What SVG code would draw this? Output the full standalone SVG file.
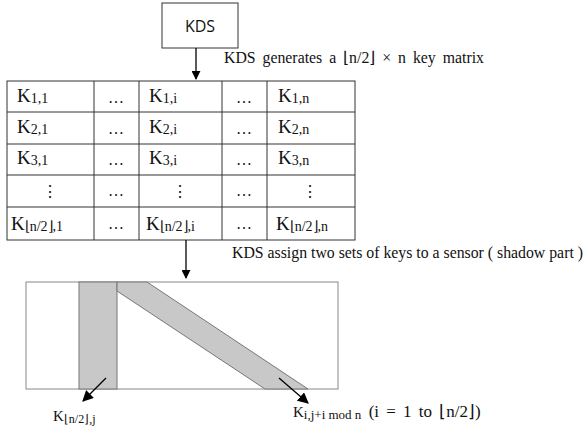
<svg xmlns="http://www.w3.org/2000/svg" width="584" height="429" viewBox="0 0 584 429">
<defs>
<marker id="ah" viewBox="0 0 10 10" refX="9" refY="5" markerWidth="9" markerHeight="9" markerUnits="userSpaceOnUse" orient="auto"><path d="M0,0 L10,5 L0,10 z" fill="#000"/></marker>
<marker id="ah2" viewBox="0 0 10 10" refX="9" refY="5" markerWidth="11" markerHeight="11" markerUnits="userSpaceOnUse" orient="auto"><path d="M0,0 L10,5 L0,10 z" fill="#000"/></marker>
<style>
.k{font-family:"Liberation Serif",serif;font-size:19px;fill:#111}
.s{font-size:14px}
.d{font-family:"Liberation Serif",serif;font-size:16px;fill:#111;text-anchor:middle}
.lbl{font-family:"Liberation Serif",serif;font-size:15.8px;fill:#111}
.grid{stroke:#333;stroke-width:1;fill:none}
.band{fill:#c8c8c8;stroke:#777;stroke-width:1}
.conn{stroke:#000;stroke-width:1.3;fill:none}
</style>
</defs>
<rect width="584" height="429" fill="#fff"/>
<g id="kds">
<rect x="162" y="3" width="76" height="45" fill="#fff" stroke="#333" stroke-width="1"/>
<text x="200" y="32" text-anchor="middle" style="font-family:'Open Sans','Liberation Sans',sans-serif;font-size:16px;fill:#111">KDS</text>
</g>
<g id="matrix">
<rect class="grid" x="7" y="81" width="348" height="159"/>
<path class="grid" d="M94,81V240M139,81V240M222,81V240M267,81V240M7,112H355M7,144H355M7,175H355M7,207H355"/>
<text class="k" x="17" y="102">K<tspan class="s" dy="1">1,1</tspan></text>
<text class="k" x="149" y="102">K<tspan class="s" dy="1">1,i</tspan></text>
<text class="k" x="278" y="102">K<tspan class="s" dy="1">1,n</tspan></text>
<text class="k" x="17" y="133">K<tspan class="s" dy="1">2,1</tspan></text>
<text class="k" x="149" y="133">K<tspan class="s" dy="1">2,i</tspan></text>
<text class="k" x="278" y="133">K<tspan class="s" dy="1">2,n</tspan></text>
<text class="k" x="17" y="164">K<tspan class="s" dy="1">3,1</tspan></text>
<text class="k" x="149" y="164">K<tspan class="s" dy="1">3,i</tspan></text>
<text class="k" x="278" y="164">K<tspan class="s" dy="1">3,n</tspan></text>
<text class="k" x="11" y="230">K<tspan class="s" dy="1">⌊n/2⌋,1</tspan></text>
<text class="k" x="146" y="230">K<tspan class="s" dy="1">⌊n/2⌋,i</tspan></text>
<text class="k" x="276" y="230">K<tspan class="s" dy="1">⌊n/2⌋,n</tspan></text>
<text class="d" x="116" y="103">…</text><text class="d" x="244" y="103">…</text>
<text class="d" x="116" y="134">…</text><text class="d" x="244" y="134">…</text>
<text class="d" x="116" y="165">…</text><text class="d" x="244" y="165">…</text>
<text class="d" x="116" y="196">…</text><text class="d" x="244" y="196">…</text>
<text class="d" x="116" y="229">…</text><text class="d" x="244" y="229">…</text>
<text class="d" x="50" y="197">⋮</text>
<text class="d" x="180" y="197">⋮</text>
<text class="d" x="310" y="197">⋮</text>
</g>
<g id="sensor">
<rect x="26" y="282" width="312" height="107" fill="#fff" stroke="#888" stroke-width="1"/>
<rect class="band" x="79" y="282" width="38" height="107"/>
<polygon class="band" points="117,282 147,282 308,389 265,389 117,291"/>
</g>
<g id="connectors">
<line class="conn" x1="196" y1="48" x2="196" y2="79" marker-end="url(#ah)"/>
<line class="conn" x1="186" y1="240" x2="186" y2="278" marker-end="url(#ah)"/>
<line class="conn" x1="106" y1="378" x2="83" y2="401" marker-end="url(#ah2)"/>
<line class="conn" x1="279" y1="378" x2="308" y2="403" marker-end="url(#ah2)"/>
</g>
<g id="labels">
<text class="lbl" x="224" y="63" style="word-spacing:3px">KDS generates a  ⌊n/2⌋ × n  key matrix</text>
<text class="lbl" x="232" y="258">KDS assign two sets of keys to a sensor ( shadow part )</text>
<text class="k" x="53" y="421" style="font-size:15px">K<tspan class="s" style="font-size:12px" dy="2">⌊n/2⌋,j</tspan></text>
<text class="k" x="293" y="417" style="font-size:15px">K<tspan class="s" style="font-size:13px" dy="2">i,j+i mod n</tspan><tspan dy="-2" style="font-size:17px;word-spacing:3px"> (i = 1 to ⌊n/2⌋)</tspan></text>
</g>
</svg>
